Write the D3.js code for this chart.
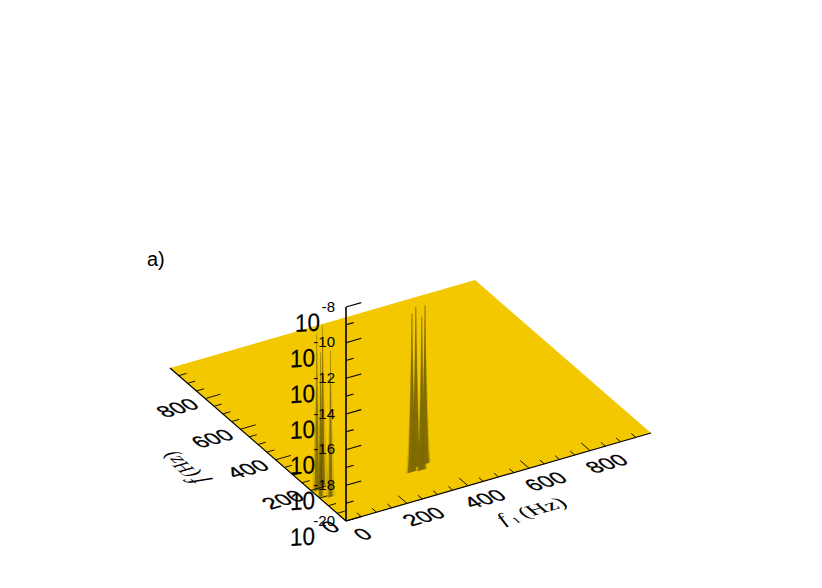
<!DOCTYPE html>
<html><head><meta charset="utf-8"><style>html,body{margin:0;background:#fff}svg{display:block}text{font-family:"Liberation Sans",Arial,sans-serif;fill:#000}</style>
<script src="https://cdn.jsdelivr.net/npm/d3@7"></script></head><body><div id="c"></div>
<script>
const f1Ticks=[0,200,400,600,800];
const fTicks=[0,200,400,600,800];
const minorTicks=[50,100,150,250,300,350,450,500,550,650,700,750,850,900,950];
const zMajor=[-20,-18,-16,-14,-12,-10,-8];
const zMinor=[-19,-17,-15,-13,-11,-9];
const rightF1=[301,319,331,356];
const rightF=[147,156,143,168];
const rightPeak=[-11.1,-10.9,-11.4,-11.1];
const leftF1=[14,22,6,30];
const leftF=[190,171,155,140];
const leftPeak=[-11.2,-10.6,-11.9,-11.8];
const belowPeak=[0,1,2,3,4,5,6,7,8,8.6,9];
const halfWidthHz=[1.1,1.6,2.3,3.2,4.3,5.6,7,8.6,10.5,12.5,14];
const W=822,H=588;
const svg=d3.select('#c').append('svg').attr('width',W).attr('height',H);
const ox=346,oy=521;
const f1X=d3.scaleLinear([0,1000],[0,305]),f1Y=d3.scaleLinear([0,1000],[0,-88]);
const fX=d3.scaleLinear([0,1000],[0,-176]),fY=d3.scaleLinear([0,1000],[0,-153]);
const zS=d3.scaleLinear([-20,-8],[521,307]);
const px=(a,b)=>ox+f1X(a)+fX(b), py=(a,b,z=-20)=>oy+f1Y(a)+fY(b)+zS(Math.max(z,-20))-zS(-20);
const line=d3.line();
svg.append('path').attr('d',line([[px(0,0),py(0,0)],[px(1000,0),py(1000,0)],[px(1000,1000),py(1000,1000)],[px(0,1000),py(0,1000)]])+'Z').attr('fill','#f3c800');
function spikes(a,b,p,w,fill,op){
  a.forEach((d,i)=>{
    const L=belowPeak.map((k,j)=>{const q=Math.max(0,d-halfWidthHz[j]*w);return [px(q,b[i]),py(q,b[i],p[i]-k)];});
    const R=belowPeak.map((k,j)=>[px(d+halfWidthHz[j]*w,b[i]),py(d+halfWidthHz[j]*w,b[i],p[i]-k)]).reverse();
    svg.append('path').attr('d',line(L.concat(R))+'Z').attr('fill',fill).attr('fill-opacity',op);
  });
}
spikes(rightF1,rightF,rightPeak,1.4,'#a68d00',0.45);
spikes(rightF1,rightF,rightPeak,1,'#7d6900',0.95);
spikes(leftF1,leftF,leftPeak,1.3,'#a68d00',0.4);
spikes(leftF1,leftF,leftPeak,0.6,'#5f5000',0.65);
const seg=(x1,y1,x2,y2,w=1)=>svg.append('line').attr('x1',x1).attr('y1',y1).attr('x2',x2).attr('y2',y2).attr('stroke','#000').attr('stroke-width',w);
seg(px(0,0),py(0,0),px(1000,0),py(1000,0),1.2);
seg(px(0,0),py(0,0),px(0,1000),py(0,1000),1.2);
seg(ox,zS(-20),ox,zS(-8),1.6);
f1Ticks.concat(minorTicks).forEach(t=>{
  const maj=t%200===0, l=maj?50:25;
  if(t===0)return;
  seg(px(t,0),py(t,0),px(t,l),py(t,l),.9);seg(px(0,t),py(0,t),px(l,t),py(l,t),.9);
});
zMajor.forEach(z=>seg(ox,zS(z),ox+f1X(50),zS(z)+f1Y(50),1.1));
zMinor.forEach(z=>seg(ox,zS(z),ox+f1X(25),zS(z)+f1Y(25),1.1));
const k=1/Math.hypot(305,88), m=1/Math.hypot(176,153);
const fl=(x,y,sx=1,sy=.95)=>`matrix(${305*k*sx},${-88*k*sx},${176*m*sy},${153*m*sy},${x},${y})`;
function num(t,x,y,anchor){
  svg.append('text').attr('transform',fl(x,y)).attr('text-anchor',anchor).attr('font-size',22.5).attr('y',8)
    .attr('stroke','#000').attr('stroke-width',.35).text(t);
}
f1Ticks.forEach(t=>num(t,px(t,0)+16.5,py(t,0)+13,'middle'));
fTicks.forEach(t=>num(t,px(0,t)-10,py(0,t)+4,'end'));
zMajor.forEach(z=>{
  const y=zS(z);
  svg.append('text').attr('transform',`matrix(.9,-.05,0,1,${z===-8?320:315},${y+23.5})`).attr('text-anchor','end').attr('font-size',25).attr('stroke','#000').attr('stroke-width',.2).text('10');
  svg.append('text').attr('transform',`translate(335,${y+4.5})`).attr('text-anchor','end').attr('font-size',15).text(z);
});
function title(sel,withSub){
  sel.attr('text-anchor','middle').attr('font-size',20).style('font-family','"Liberation Serif",serif');
  sel.append('tspan').attr('font-style','italic').attr('font-size',withSub?20:25).text('f');
  if(withSub)sel.append('tspan').attr('font-size',11).attr('dx',3).attr('dy',3).text('1');
  sel.append('tspan').attr('dx',4).attr('dy',withSub?-3:0).text('(Hz)');
}
title(svg.append('text').attr('transform',fl(536,515,1.25,1)),true);
title(svg.append('text').attr('transform',`matrix(${-176*m*.95},${-153*m*.95},${305*k*1.1},${-88*k*1.1},191,466)`),false);
svg.append('text').attr('x',147).attr('y',266).attr('font-size',20).text('a)');
</script></body></html>
